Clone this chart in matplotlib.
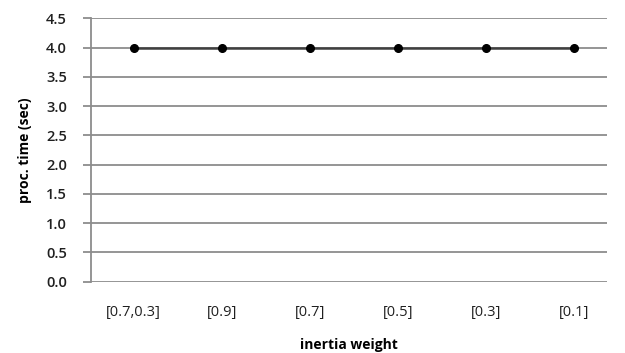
import numpy as np
import matplotlib.pyplot as plt

plt.rcParams['font.family'] = ['Open Sans', 'DejaVu Sans']

weights = ['[0.7,0.3]', '[0.9]', '[0.7]', '[0.5]', '[0.3]', '[0.1]']
proc_time = [4.0, 4.0, 4.0, 4.0, 4.0, 4.0]
y_ticks = [0.0, 0.5, 1.0, 1.5, 2.0, 2.5, 3.0, 3.5, 4.0, 4.5]

fig = plt.figure(figsize=(6.25, 3.53), dpi=100)
ax = fig.add_axes([0.145, 0.202, 0.826, 0.746])

x = np.arange(len(weights))
ax.plot(x, proc_time, color='#404040', lw=1.8, marker='o', ms=5.5,
        mfc='black', mec='black', zorder=3)

ax.set_ylim(0, 4.5)
ax.set_xlim(-0.49, len(weights) - 1 + 0.37)
ax.set_yticks(y_ticks)
ax.set_yticklabels(['{:.1f}'.format(v) for v in y_ticks], fontsize=10.5,
                   fontweight='semibold', color='#202020')
ax.set_xticks(x)
ax.set_xticklabels(weights, fontsize=10.5, color='#202020')

ax.yaxis.grid(True, color='#8c8c8c', lw=1.3)
ax.set_axisbelow(True)
for s in ['top', 'right', 'bottom']:
    ax.spines[s].set_visible(False)
ax.spines['left'].set_color('#8c8c8c')
ax.spines['left'].set_linewidth(1.3)
ax.tick_params(axis='y', length=6, width=1.3, color='#8c8c8c', pad=11)
ax.tick_params(axis='x', length=0, pad=17)

ax.set_xlabel('inertia weight', fontsize=10, fontweight='bold', labelpad=13)
ax.set_ylabel('proc. time (sec)', fontsize=10, fontweight='bold', labelpad=10)

fig.savefig('out.png', dpi=100)
